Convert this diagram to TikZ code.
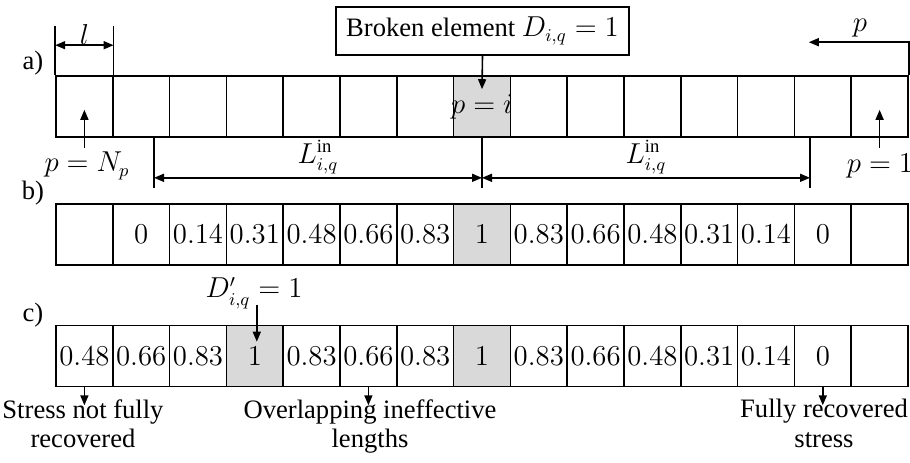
\documentclass[tikz,border=0pt]{standalone}
\usepackage{fontspec}
\setmainfont{Liberation Serif}
\usetikzlibrary{arrows.meta,calc}
\definecolor{brokengray}{HTML}{D9D9D9}
\begin{document}
\begin{tikzpicture}[x=0.5pt,y=-0.5pt,
  font=\fontsize{13.3}{14.8}\selectfont,
  cell/.style={draw,line width=0.8pt,minimum width=28.4pt,minimum height=30.5pt,inner sep=0pt,anchor=center},
  lbl/.style={inner sep=0pt},
  ptr/.style={line width=0.8pt,-{Triangle[length=5pt,width=4pt]}},
  dimline/.style={line width=0.8pt,{Triangle[length=5pt,width=4pt]}-{Triangle[length=5pt,width=4pt]}},
  ext/.style={line width=0.8pt}]
\useasboundingbox (0,0) rectangle (910,462);

% ---- row a: element numbering ----
\foreach \k/\f in {0/white,1/white,2/white,3/white,4/white,5/white,6/white,7/brokengray,
                   8/white,9/white,10/white,11/white,12/white,13/white,14/white}
  \node[cell,fill=\f] (a\k) at ({56+(\k+0.5)*56.8},106.5) {};
\node[lbl] at (a7.center) {$p = i$};

% ---- row b: single break ----
\foreach \k/\v/\f in {0/{}/white,1/0/white,2/0.14/white,3/0.31/white,4/0.48/white,
                      5/0.66/white,6/0.83/white,7/1/brokengray,8/0.83/white,9/0.66/white,
                      10/0.48/white,11/0.31/white,12/0.14/white,13/0/white,14/{}/white}
  \node[cell,fill=\f] (b\k) at ({56+(\k+0.5)*56.8},234.5) {\ensuremath{\v}};

% ---- row c: two breaks ----
\foreach \k/\v/\f in {0/0.48/white,1/0.66/white,2/0.83/white,3/1/brokengray,4/0.83/white,
                      5/0.66/white,6/0.83/white,7/1/brokengray,8/0.83/white,9/0.66/white,
                      10/0.48/white,11/0.31/white,12/0.14/white,13/0/white,14/{}/white}
  \node[cell,fill=\f] (c\k) at ({56+(\k+0.5)*56.8},356) {\ensuremath{\v}};

% row labels
\node[lbl] (la) at (33,63) {a)};
\node[lbl] (lb) at (33,193) {b)};
\node[lbl] (lc) at (33,315) {c)};

% broken element call-out
\node[draw,line width=0.8pt,minimum width=146.5pt,minimum height=24pt,inner sep=0pt]
  (box) at (482.5,31) {Broken element $D_{i,q} = 1$};
\draw[ptr] (box.south) -- ($(a7.north)+(0,14)$);

% element length l
\draw[ext] (a0.north west) -- ++(0,-49);
\draw[ext] (a0.north east) -- ++(0,-49);
\draw[dimline] ($(a0.north west)+(0,-30)$) -- ($(a0.north east)+(0,-30)$);
\node[lbl] (ll) at ($(a0.north)+(0,-41)$) {$l$};

% numbering direction p
\draw[ext] (a14.north east) -- ++(0,-34);
\draw[ptr] ($(a14.north east)+(0,-33)$) -- ($(a14.north east)+(-100,-33)$);
\node[lbl] (lp) at (860,28) {$p$};

% first and last element
\draw[ptr] ($(a0.south)+(0,10)$) -- ($(a0.south)+(0,-28)$);
\node[lbl] (pNp) at (87,166) {$p = N_p$};
\draw[ptr] ($(a14.south)+(0,10)$) -- ($(a14.south)+(0,-28)$);
\node[lbl] (p1) at (880,166) {$p = 1$};

% ineffective lengths
\coordinate (Lmid) at (a7.south);
\coordinate (Lleft) at ($(a7.south)+(-328,0)$);
\coordinate (Lright) at ($(a7.south)+(328,0)$);
\draw[ext] (Lmid) -- ++(0,50);
\draw[ext] (Lleft) -- ++(0,50);
\draw[ext] (Lright) -- ++(0,50);
\draw[dimline] ($(Lleft)+(0,40)$) -- ($(Lmid)+(0,40)$);
\draw[dimline] ($(Lmid)+(0,40)$) -- ($(Lright)+(0,40)$);
\node[lbl] (Lin1) at (318,157) {$L_{i,q}^{\mathrm{in}}$};
\node[lbl] (Lin2) at (646,157) {$L_{i,q}^{\mathrm{in}}$};

% second break
\node[lbl] (Dp) at (254,293) {$D'_{i,q} = 1$};
\draw[ptr] ($(c3.north)+(2,-20)$) -- ($(c3.north)+(2,17)$);

% annotations below row c
\node[lbl,align=center,anchor=north] (t1) at (83,399) {Stress not fully\\recovered};
\draw[ptr] (c0.south) -- ++(0,18);
\node[lbl,align=center,anchor=north] (t2) at (370,399) {Overlapping ineffective\\lengths};
\draw[ptr] (c5.south) -- ++(0,18);
\node[lbl,align=center,anchor=north] (t3) at (824,399) {Fully recovered\\stress};
\draw[ptr] (c13.south) -- ++(0,18);
\end{tikzpicture}
\end{document}
